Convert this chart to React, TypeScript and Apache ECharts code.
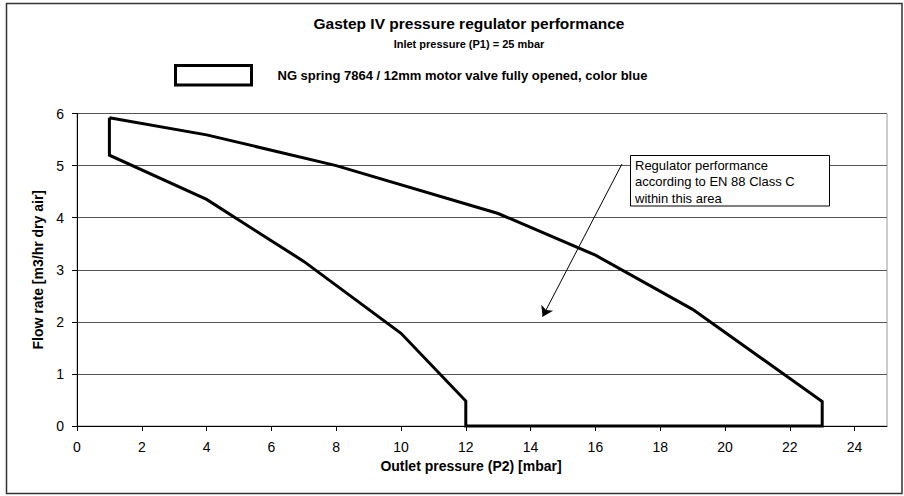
import React, { useEffect, useRef } from "react";
import * as echarts from "echarts";

const titleText = "Gastep IV pressure regulator performance";
const subtitleText = "Inlet pressure (P1) = 25 mbar";
const seriesName = "NG spring 7864 / 12mm motor valve fully opened, color blue";
const xAxisName = "Outlet pressure (P2) [mbar]";
const yAxisName = "Flow rate [m3/hr dry air]";
const annotationText = "Regulator performance\naccording to EN 88 Class C\nwithin this area";

// polygon outline (closed): outlet pressure [mbar] vs flow rate [m3/hr]
const outletPressure = [1, 4, 8, 13, 16, 19, 23, 23, 12, 12, 10, 7, 4, 1, 1];
const flowRate = [5.92, 5.59, 5.0, 4.08, 3.28, 2.24, 0.47, 0, 0, 0.48, 1.78, 3.16, 4.35, 5.2, 5.92];

// arrow from annotation box into the area
const arrowFrom = [16.82, 5.03];
const arrowTo = [14.37, 2.1];

const xTicks = [0, 2, 4, 6, 8, 10, 12, 14, 16, 18, 20, 22, 24];
const xMax = 25;
const yMax = 6;

const FONT = "'Liberation Sans', Arial, sans-serif";

export default function App() {
  const ref = useRef<HTMLDivElement>(null);
  useEffect(() => {
    if (!ref.current) return;
    const chart = echarts.init(ref.current, null, { renderer: "svg" });
    const polygon = outletPressure.map((x, i) => [x, flowRate[i]]);
    chart.setOption({
      animation: false,
      backgroundColor: "#fff",
      textStyle: { fontFamily: FONT, color: "#000" },
      title: [
        {
          text: titleText,
          left: 464,
          top: 10.5,
          textAlign: "center",
          textStyle: { fontFamily: FONT, fontSize: 15.5, fontWeight: "bold", color: "#000" },
        },
        {
          text: subtitleText,
          left: 464,
          top: 33,
          textAlign: "center",
          textStyle: { fontFamily: FONT, fontSize: 11, fontWeight: "bold", color: "#000" },
        },
      ],
      legend: {
        data: [seriesName],
        left: 169,
        top: 59,
        icon: "rect",
        itemWidth: 76,
        itemHeight: 19.5,
        itemStyle: { color: "#fff", borderColor: "#000", borderWidth: 3 },
        textStyle: {
          fontFamily: FONT,
          fontSize: 13,
          fontWeight: "bold",
          color: "#000",
          padding: [3, 0, 0, 21],
        },
        selectedMode: false,
      },
      grid: {
        left: 77,
        top: 113.5,
        right: 17,
        bottom: 70,
        show: true,
        borderColor: "#999",
        borderWidth: 1,
        backgroundColor: "transparent",
      },
      xAxis: {
        type: "value",
        min: 0,
        max: xMax,
        interval: 2,
        name: xAxisName,
        nameLocation: "middle",
        nameGap: 33,
        nameTextStyle: {
          fontFamily: FONT,
          fontSize: 14,
          fontWeight: "bold",
          color: "#000",
          padding: [0, 22, 0, 0],
        },
        axisLine: { show: true, onZero: false, lineStyle: { color: "#000", width: 1 } },
        axisTick: { show: true, length: 5, lineStyle: { color: "#000" }, customValues: xTicks },
        axisLabel: { fontFamily: FONT, fontSize: 14, color: "#000", margin: 14, customValues: xTicks },
        splitLine: { show: false },
      },
      yAxis: {
        type: "value",
        min: 0,
        max: yMax,
        interval: 1,
        name: yAxisName,
        nameLocation: "middle",
        nameGap: 32,
        nameTextStyle: { fontFamily: FONT, fontSize: 14, fontWeight: "bold", color: "#000" },
        axisLine: { show: true, onZero: false, lineStyle: { color: "#000", width: 1 } },
        axisTick: { show: true, length: 5, lineStyle: { color: "#000" } },
        axisLabel: { fontFamily: FONT, fontSize: 14, color: "#000", margin: 13 },
        splitLine: { show: true, lineStyle: { color: "#555", width: 1 } },
      },
      series: [
        {
          name: seriesName,
          type: "line",
          data: polygon,
          symbol: "none",
          clip: false,
          lineStyle: { color: "#000", width: 3, join: "miter" },
          itemStyle: { color: "#fff", borderColor: "#000", borderWidth: 3 },
          z: 5,
        },
        {
          name: "arrow",
          type: "lines",
          coordinateSystem: "cartesian2d",
          data: [{ coords: [arrowFrom, arrowTo] }],
          symbol: ["none", "arrow"],
          symbolSize: 10,
          lineStyle: { color: "#000", width: 1, opacity: 1, curveness: 0 },
          z: 6,
        },
      ],
      graphic: [
        {
          type: "rect",
          z: 100,
          shape: { x: 6.5, y: 3.5, width: 895.5, height: 490 },
          style: { fill: "none", stroke: "#333", lineWidth: 1.5 },
          silent: true,
        },
        {
          type: "rect",
          z: 100,
          shape: { x: 630.5, y: 155.5, width: 199, height: 50.5 },
          style: { fill: "#fff", stroke: "#000", lineWidth: 1 },
        },
        {
          type: "text",
          z: 101,
          x: 635,
          y: 157,
          style: {
            text: annotationText,
            fontFamily: FONT,
            fontSize: 13,
            lineHeight: 16.5,
            fill: "#000",
          },
        },
      ],
    });
    return () => chart.dispose();
  }, []);
  return (
    <div
      ref={ref}
      style={{ position: "fixed", left: 0, top: 0, width: 904, height: 496, background: "#fff" }}
    />
  );
}
